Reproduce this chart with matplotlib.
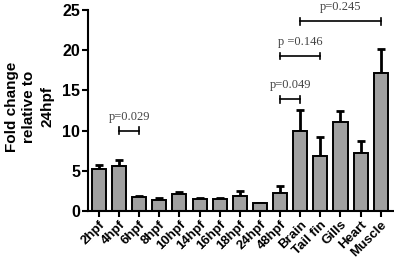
import numpy as np
import matplotlib.pyplot as plt

labels = ['2hpf', '4hpf', '6hpf', '8hpf', '10hpf', '14hpf', '16hpf', '18hpf',
          '24hpf', '48hpf', 'Brain', 'Tail fin', 'Gills', 'Heart', 'Muscle']
means = [5.2, 5.6, 1.7, 1.4, 2.1, 1.5, 1.45, 1.8, 1.0, 2.25, 10.0, 6.8, 11.1, 7.2, 17.2]
errs = [0.5, 0.7, 0.15, 0.2, 0.3, 0.15, 0.2, 0.7, 0.0, 0.85, 2.6, 2.4, 1.4, 1.5, 2.9]

# significance brackets: (left bar, right bar, height, text)
brackets = [(1, 2, 10.0, 'p=0.029'),
            (9, 10, 13.9, 'p=0.049'),
            (9, 11, 19.3, 'p =0.146'),
            (10, 14, 23.6, 'p=0.245')]

plt.rcParams['font.family'] = ['Liberation Sans', 'DejaVu Sans']

fig = plt.figure(figsize=(3.94, 2.67), dpi=100)
ax = fig.add_axes([0.223, 0.21, 0.774, 0.752])

x = np.arange(len(labels))
ax.bar(x, means, width=0.7, color='#a0a0a0', edgecolor='black', linewidth=1.4, zorder=2)
ax.errorbar(x, means, yerr=[np.zeros(len(errs)), errs], fmt='none', ecolor='black',
            elinewidth=2, capsize=3, capthick=2, zorder=1)

for a, b, h, txt in brackets:
    ax.plot([a, b], [h, h], color='black', lw=1.2, clip_on=False)
    ax.plot([a, a], [h - 0.4, h + 0.4], color='black', lw=1.2, clip_on=False)
    ax.plot([b, b], [h - 0.4, h + 0.4], color='black', lw=1.2, clip_on=False)
    ax.text((a + b) / 2, h + 1.0, txt, ha='center', va='bottom', fontsize=9,
            family='Liberation Serif', color='#444444', clip_on=False)

ax.set_xlim(-0.55, 14.6)
ax.set_ylim(0, 25)
ax.set_yticks([0, 5, 10, 15, 20, 25])
ax.set_xticks(x)
ax.set_xticklabels(labels, rotation=45, ha='right', rotation_mode='anchor',
                   fontsize=9.5, fontweight='bold')
for t in ax.get_yticklabels():
    t.set_fontsize(11.5)
    t.set_fontweight('bold')

ax.spines['top'].set_visible(False)
ax.spines['right'].set_visible(False)
ax.spines['left'].set_linewidth(1.5)
ax.spines['bottom'].set_linewidth(1.5)
ax.tick_params(width=1.5, length=4, pad=1.5)

ax.set_ylabel('Fold change\nrelative to\n24hpf', fontsize=11, fontweight='bold',
              linespacing=1.35)
ax.yaxis.set_label_coords(-0.11, 0.52)

fig.savefig('out.png', dpi=100)
